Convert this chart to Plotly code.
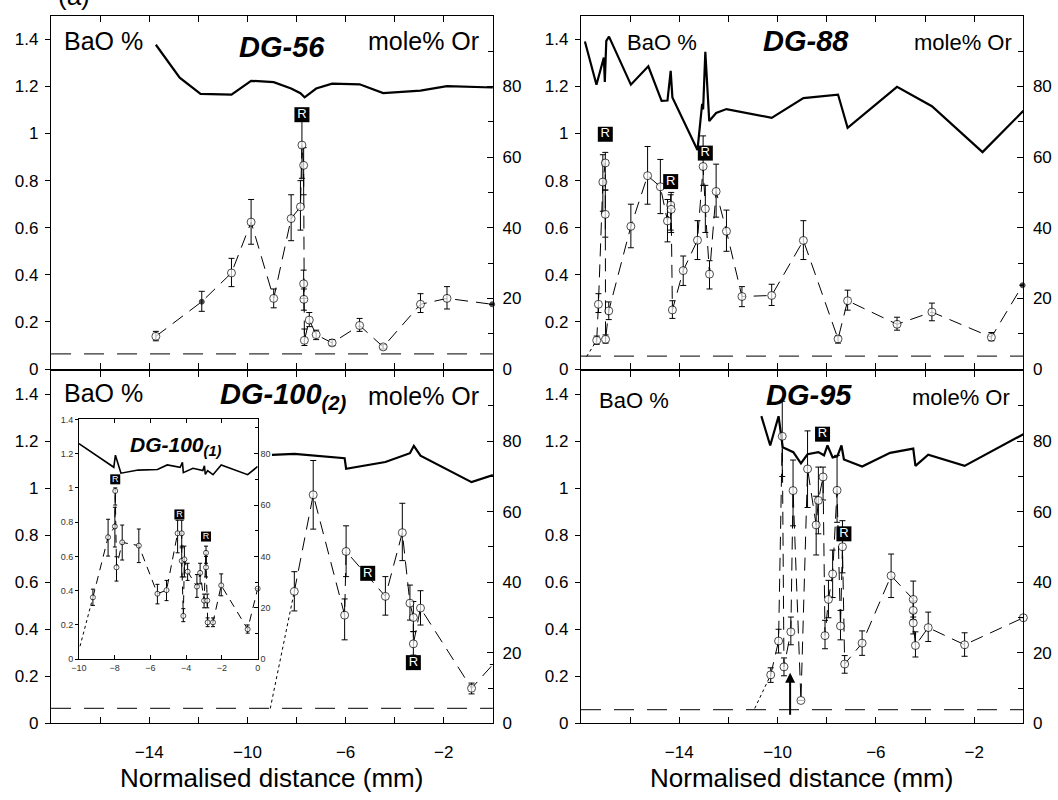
import plotly.graph_objects as go

W, H = 1058, 800
FONT = "Liberation Sans"

# ---------------- DATA ----------------
# DG-56 (top-left)
dg56_x = [-13.73, -11.86, -10.65, -9.85, -8.93, -8.22, -7.84, -7.78, -7.71, -7.71, -7.70, -7.68, -7.48, -7.20, -6.55, -5.43, -4.47, -2.95, -1.87, -0.03]
dg56_y = [0.139, 0.286, 0.408, 0.624, 0.300, 0.639, 0.689, 0.951, 0.865, 0.362, 0.296, 0.122, 0.208, 0.146, 0.111, 0.185, 0.094, 0.275, 0.300, 0.275]
dg56_hi = [0.160, 0.330, 0.470, 0.720, 0.340, 0.740, 0.800, 1.060, 0.940, 0.420, 0.340, 0.170, 0.240, 0.165, 0.125, 0.215, 0.104, 0.320, 0.350, 0.275]
dg56_lo = [0.120, 0.245, 0.350, 0.530, 0.260, 0.545, 0.590, 0.810, 0.740, 0.300, 0.250, 0.100, 0.180, 0.125, 0.100, 0.160, 0.085, 0.240, 0.255, 0.275]
dg56_kind = ["o", "f", "o", "o", "o", "o", "o", "o", "o", "o", "o", "o", "o", "o", "o", "o", "o", "o", "o", "f"]
dg56_r_x = [-7.78]
dg56_r_y = [1.08]
dg56_or_x = [-13.73, -12.76, -11.91, -10.65, -9.85, -8.93, -8.22, -7.84, -7.67, -7.20, -6.55, -5.43, -4.47, -2.95, -1.87, 0]
dg56_or_y = [91.8, 82.5, 77.9, 77.7, 81.6, 81.2, 79.4, 78.1, 76.9, 79.4, 80.8, 80.6, 78.1, 78.8, 80.1, 79.7]
dg56_dl = 0.064

# DG-88 (top-right)
dg88_x = [-17.36, -17.29, -17.11, -17.01, -17.01, -17.00, -16.87, -15.97, -15.29, -14.77, -14.48, -14.35, -14.33, -14.28, -13.84, -13.26, -13.03, -12.94, -12.77, -12.50, -12.08, -11.45, -10.24, -8.95, -7.54, -7.15, -5.14, -3.72, -1.30, -0.03]
dg88_y = [0.122, 0.275, 0.794, 0.875, 0.657, 0.126, 0.247, 0.606, 0.821, 0.774, 0.629, 0.696, 0.678, 0.251, 0.418, 0.547, 0.860, 0.680, 0.403, 0.754, 0.585, 0.308, 0.3125, 0.546, 0.128, 0.290, 0.190, 0.242, 0.135, 0.356]
dg88_hi = [0.140, 0.320, 0.910, 0.920, 0.760, 0.145, 0.285, 0.700, 0.945, 0.890, 0.720, 0.740, 0.750, 0.290, 0.480, 0.630, 0.990, 0.780, 0.460, 0.870, 0.675, 0.350, 0.360, 0.630, 0.140, 0.335, 0.220, 0.280, 0.155, 0.356]
dg88_lo = [0.105, 0.240, 0.670, 0.760, 0.560, 0.110, 0.210, 0.515, 0.700, 0.660, 0.540, 0.590, 0.580, 0.215, 0.355, 0.465, 0.780, 0.580, 0.340, 0.645, 0.500, 0.265, 0.270, 0.465, 0.110, 0.250, 0.165, 0.205, 0.120, 0.356]
dg88_kind = ["o"] * 29 + ["f"]
dg88_start = (-17.77, 0.053)
dg88_r_x = [-17.01, -14.35, -12.94]
dg88_r_y = [0.997, 0.796, 0.917]
dg88_or_x = [-17.84, -17.37, -17.07, -17.03, -16.97, -16.86, -15.97, -15.26, -14.72, -14.48, -14.35, -14.28, -13.26, -13.07, -13.03, -12.94, -12.78, -12.50, -12.08, -10.24, -8.95, -7.54, -7.15, -5.14, -3.72, -1.66, 0]
dg88_or_y = [92.7, 80.5, 88.2, 81.3, 92.9, 94.1, 80.5, 85.7, 75.9, 76.0, 84.4, 76.9, 62.0, 75.1, 73.5, 89.8, 70.2, 72.5, 73.6, 71.1, 76.7, 77.7, 68.3, 79.9, 74.4, 61.4, 73.1]
dg88_dl = 0.055

# DG-100(2) (bottom-left main)
dg100b_x = [-8.09, -7.32, -6.04, -5.98, -4.38, -3.69, -3.38, -3.24, -3.24, -2.95, -0.87, 0]
dg100b_y = [0.561, 0.972, 0.460, 0.731, 0.540, 0.811, 0.511, 0.450, 0.338, 0.490, 0.149, 0.25]
dg100b_hi = [0.645, 1.118, 0.529, 0.840, 0.624, 0.936, 0.588, 0.518, 0.390, 0.564, 0.171, 0.25]
dg100b_lo = [0.478, 0.826, 0.355, 0.624, 0.460, 0.692, 0.439, 0.390, 0.290, 0.418, 0.125, 0.25]
dg100b_kind = ["o"] * 11 + ["n"]
dg100b_start = (-9.07, 0.063)
dg100b_r_x = [-5.10, -3.24]
dg100b_r_y = [0.638, 0.258]
dg100b_or_x = [-9.0, -8.09, -6.04, -5.98, -4.38, -3.38, -3.22, -2.95, -0.87, 0]
dg100b_or_y = [76.1, 76.4, 75.2, 72.2, 74.1, 76.6, 78.7, 75.9, 68.4, 70.4]
dg100b_dl = 0.063

# DG-100(1) (inset)
dg100a_x = [-9.22, -8.37, -7.99, -7.97, -7.90, -7.58, -6.65, -5.61, -5.10, -4.48, -4.25, -4.25, -4.16, -4.10, -3.92, -3.40, -3.22, -3.00, -2.89, -2.89, -2.82, -2.80, -2.50, -2.04, -0.56, 0]
dg100a_y = [0.361, 0.712, 0.775, 0.982, 0.536, 0.682, 0.663, 0.382, 0.403, 0.735, 0.735, 0.574, 0.253, 0.583, 0.511, 0.424, 0.504, 0.342, 0.621, 0.536, 0.342, 0.215, 0.215, 0.431, 0.175, 0.412]
dg100a_hi = [0.409, 0.817, 0.887, 1.000, 0.598, 0.783, 0.760, 0.437, 0.460, 0.811, 0.811, 0.660, 0.295, 0.660, 0.560, 0.494, 0.560, 0.380, 0.660, 0.600, 0.380, 0.241, 0.241, 0.498, 0.200, 0.412]
dg100a_lo = [0.314, 0.602, 0.655, 0.900, 0.456, 0.579, 0.564, 0.323, 0.342, 0.621, 0.650, 0.480, 0.219, 0.480, 0.460, 0.361, 0.440, 0.300, 0.560, 0.480, 0.300, 0.190, 0.190, 0.370, 0.152, 0.412]
dg100a_kind = ["o"] * 26
dg100a_start = (-9.94, 0.076)
dg100a_r_x = [-7.97, -4.38, -2.89]
dg100a_r_y = [1.05, 0.845, 0.716]
dg100a_or_x = [-10, -8.05, -7.96, -7.65, -6.69, -5.61, -5.06, -4.34, -4.21, -4.16, -3.62, -3.07, -2.98, -2.93, -2.80, -2.50, -2.04, -0.56, 0]
dg100a_or_y = [83.9, 74.7, 79.4, 72.4, 73.6, 73.8, 75.6, 74.7, 76.6, 72.6, 74.3, 73.4, 75.3, 71.9, 73.4, 71.8, 75.6, 71.8, 75.0]

# DG-95 (bottom-right)
dg95_x = [-10.28, -9.96, -9.81, -9.74, -9.46, -9.37, -9.05, -8.78, -8.43, -8.34, -8.15, -8.07, -7.93, -7.76, -7.58, -7.44, -7.36, -7.27, -6.56, -5.38, -4.48, -4.48, -4.48, -4.39, -3.87, -2.39, 0]
dg95_y = [0.206, 0.350, 1.221, 0.240, 0.389, 0.990, 0.097, 1.082, 0.844, 0.948, 1.048, 0.373, 0.527, 0.635, 0.991, 0.414, 0.751, 0.252, 0.341, 0.628, 0.527, 0.480, 0.427, 0.331, 0.407, 0.334, 0.449]
dg95_hi = [0.236, 0.400, 1.370, 0.278, 0.452, 1.120, 0.097, 1.244, 0.966, 1.090, 1.090, 0.438, 0.608, 0.737, 1.140, 0.480, 0.862, 0.288, 0.393, 0.720, 0.605, 0.520, 0.470, 0.389, 0.473, 0.385, 0.449]
dg95_lo = [0.174, 0.299, 1.050, 0.202, 0.334, 0.840, 0.097, 0.918, 0.716, 0.806, 0.950, 0.317, 0.449, 0.535, 0.855, 0.355, 0.640, 0.213, 0.289, 0.535, 0.452, 0.440, 0.380, 0.282, 0.348, 0.285, 0.449]
dg95_kind = ["o"] * 27
dg95_start = (-10.93, 0.063)
dg95_r_x = [-8.17, -7.30]
dg95_r_y = [1.23, 0.806]
dg95_or_x = [-10.66, -10.30, -9.96, -9.79, -9.36, -9.05, -8.78, -8.34, -8.11, -7.97, -7.76, -7.57, -7.40, -7.30, -6.56, -5.42, -4.48, -4.39, -3.87, -2.39, 0]
dg95_or_y = [87.1, 78.8, 87.1, 78.3, 76.9, 73.7, 76.3, 76.9, 76.0, 78.8, 75.4, 75.7, 78.8, 74.8, 72.8, 76.7, 77.9, 73.0, 76.2, 73.0, 82.0]
dg95_dl = 0.058
dg95_arrow = (-9.49, 0.03, 0.215)

# tick labels
bao_ticks = [0, 0.2, 0.4, 0.6, 0.8, 1.0, 1.2, 1.4]
or_ticks = [0, 20, 40, 60, 80]
or_minor = [10, 30, 50, 70, 90]
x_ticks = [-14, -10, -6, -2]
x_minor = [-16, -12, -8, -4, 0]
inset_x_ticks = [-10, -8, -6, -4, -2, 0]

# ---------------- FIGURE ----------------
fig = go.Figure()
layout = {}


def xd(a, b):
    return [a / W, b / W]


def yd(top, bottom):
    return [1 - bottom / H, 1 - top / H]


def add_panel(k, dom_x, dom_y, xs, ys, his, los, kinds, orx, ory, rx, ry,
              start=None, dl=None, xr=(-18, 0), yr=(0, 1.5), orr=(0, 100),
              xt=None, xm=None, showx=True, small=False):
    xn = "x" if k == 1 else f"x{k}"
    yo = f"y{2*k-1}" if k > 1 else "y"
    yb = f"y{2*k}"
    xkey = "xaxis" if k == 1 else f"xaxis{k}"
    yokey = "yaxis" if k == 1 else f"yaxis{2*k-1}"
    ybkey = f"yaxis{2*k}"
    tf = 9 if small else 17
    tcol = "#333" if small else "black"
    xa = dict(domain=dom_x, range=list(xr), anchor=yo, showline=True, linecolor="black",
              linewidth=1 if small else 1.3, mirror="ticks", ticks="inside",
              ticklen=4 if small else 6, tickcolor="black", tickvals=xt,
              showticklabels=showx, showgrid=False, zeroline=False,
              tickfont=dict(family=FONT, size=tf, color=tcol),
              ticklabelstandoff=0 if small else 13)
    if xm is not None:
        xa["minor"] = dict(tickvals=xm, ticks="inside", ticklen=6, tickcolor="black")
    layout[xkey] = xa
    layout[yokey] = dict(domain=dom_y, range=list(orr), anchor=xn, side="right", showline=True,
                         linecolor="black", linewidth=1 if small else 1.3, ticks="inside",
                         ticklen=4 if small else 6, tickcolor="black", tickvals=or_ticks,
                         minor=dict(tickvals=or_minor, ticks="inside", ticklen=3 if small else 5,
                                    tickcolor="black"),
                         showgrid=False, zeroline=False,
                         tickfont=dict(family=FONT, size=tf, color=tcol),
                         ticklabelstandoff=0 if small else 5)
    layout[ybkey] = dict(range=list(yr), anchor=xn, overlaying=yo, side="left", showline=True,
                         linecolor="black", linewidth=1 if small else 1.3, ticks="outside",
                         ticklen=3 if small else 5, tickcolor="black", tickvals=bao_ticks,
                         showgrid=False, zeroline=False,
                         tickfont=dict(family=FONT, size=tf, color=tcol),
                         ticklabelstandoff=0 if small else 3)
    # mole% Or line (base axis)
    fig.add_trace(go.Scatter(x=orx, y=ory, mode="lines", xaxis=xn, yaxis=yo,
                             line=dict(color="black", width=1.6 if small else 2.2), showlegend=False,
                             hoverinfo="skip"))
    # detection limit
    if dl is not None:
        fig.add_trace(go.Scatter(x=list(xr), y=[dl, dl], mode="lines", xaxis=xn, yaxis=yb,
                                 line=dict(color="#333", width=1.3, dash="20px,13px"),
                                 showlegend=False, hoverinfo="skip"))
    # fine dashed start
    if start is not None:
        fig.add_trace(go.Scatter(x=[start[0], xs[0]], y=[start[1], ys[0]], mode="lines",
                                 xaxis=xn, yaxis=yb,
                                 line=dict(color="black", width=1, dash="3px,3px"),
                                 showlegend=False, hoverinfo="skip"))
    # BaO dashed line
    fig.add_trace(go.Scatter(x=xs, y=ys, mode="lines", xaxis=xn, yaxis=yb,
                             line=dict(color="black", width=1, dash="8px,6px" if small else "13px,8px"),
                             showlegend=False, hoverinfo="skip"))
    # markers + error bars
    mcol = ["white" if kd == "o" else "black" for kd in kinds]
    base = 5 if small else 8
    msz = [base if kd == "o" else (base - 3 if kd == "f" else 0) for kd in kinds]
    fig.add_trace(go.Scatter(
        x=xs, y=ys, mode="markers", xaxis=xn, yaxis=yb, cliponaxis=False,
        marker=dict(symbol="circle", color=mcol, size=msz, line=dict(color="black", width=1)),
        error_y=dict(type="data", symmetric=False,
                     array=[h - v for h, v in zip(his, ys)],
                     arrayminus=[v - l for v, l in zip(ys, los)],
                     color="black", thickness=1, width=2 if small else 3),
        showlegend=False, hoverinfo="skip"))
    # R labels
    fig.add_trace(go.Scatter(
        x=rx, y=ry, mode="markers+text", xaxis=xn, yaxis=yb, cliponaxis=False,
        marker=dict(symbol="square", color="black", size=10 if small else 15),
        text=["R"] * len(rx), textposition="middle center",
        textfont=dict(family=FONT, size=9 if small else 13, color="white"),
        showlegend=False, hoverinfo="skip"))
    return xn, yb


TOP = (11, 371)
BOT = (372.7, 732)
LX = (43.5, 490)
RX = (579, 1026)

add_panel(1, xd(*LX), yd(*TOP), dg56_x, dg56_y, dg56_hi, dg56_lo, dg56_kind, dg56_or_x, dg56_or_y,
          dg56_r_x, dg56_r_y, dl=dg56_dl, xt=x_ticks, xm=x_minor, showx=False)
add_panel(2, xd(*RX), yd(*TOP), dg88_x, dg88_y, dg88_hi, dg88_lo, dg88_kind, dg88_or_x, dg88_or_y,
          dg88_r_x, dg88_r_y, start=dg88_start, dl=dg88_dl, xt=x_ticks, xm=x_minor, showx=False)
add_panel(3, xd(*LX), yd(*BOT), dg100b_x, dg100b_y, dg100b_hi, dg100b_lo, dg100b_kind,
          dg100b_or_x, dg100b_or_y, dg100b_r_x, dg100b_r_y, start=dg100b_start, dl=dg100b_dl,
          xt=x_ticks, xm=x_minor)
xn4, yb4 = add_panel(4, xd(*RX), yd(*BOT), dg95_x, dg95_y, dg95_hi, dg95_lo, dg95_kind,
                     dg95_or_x, dg95_or_y, dg95_r_x, dg95_r_y, start=dg95_start, dl=dg95_dl,
                     xt=x_ticks, xm=x_minor)
add_panel(5, xd(71.7, 252.3), yd(422.3, 666.7), dg100a_x, dg100a_y, dg100a_hi, dg100a_lo,
          dg100a_kind, dg100a_or_x, dg100a_or_y, dg100a_r_x, dg100a_r_y, start=dg100a_start,
          xr=(-10, 0), yr=(0, 1.4), orr=(0, 1.4 / 1.2 * 80), xt=inset_x_ticks, small=True)

anns = []


def txt(s, cx, cy, size, anchor="center"):
    anns.append(dict(text=s, x=cx / W, y=1 - cy / H, xref="paper", yref="paper",
                     showarrow=False, xanchor=anchor, yanchor="middle",
                     font=dict(family=FONT, size=size, color="black")))


txt("(a)", 48, -9, 26, "left")
# panel texts
txt("BaO %", 96, 37, 25)
txt("<b><i>DG-56</i></b>", 277, 43, 29)
txt("mole% Or", 420, 37, 25)
txt("BaO %", 661, 38, 22)
txt("<b><i>DG-88</i></b>", 806, 37, 29)
txt("mole% Or", 965, 38, 22)
txt("BaO %", 96, 395, 25)
txt("<b><i>DG-100<sub>(2)</sub></i></b>", 278, 398, 29)
txt("mole% Or", 420, 398, 25)
txt("BaO %", 633, 403, 22)
txt("<b><i>DG-95</i></b>", 809, 397, 29)
txt("mole% Or", 963, 400, 22)
txt("<b><i>DG-100<sub>(1)</sub></i></b>", 170, 449, 21)
txt("Normalised distance (mm)", 266, 788, 26)
txt("Normalised distance (mm)", 802, 788, 26)

# arrow in DG-95
anns.append(dict(x=dg95_arrow[0], y=dg95_arrow[2], ax=dg95_arrow[0], ay=dg95_arrow[1],
                 xref=xn4, yref=yb4, axref=xn4, ayref=yb4, text="", showarrow=True,
                 arrowhead=2, arrowsize=1, arrowwidth=2, arrowcolor="black"))

layout["annotations"] = anns
fig.update_layout(**layout)
fig.update_layout(width=W, height=H, margin=dict(l=0, r=0, t=0, b=0),
                  paper_bgcolor="white", plot_bgcolor="rgba(0,0,0,0)", showlegend=False,
                  font=dict(family=FONT, color="black"))

fig.write_html("out.html")
